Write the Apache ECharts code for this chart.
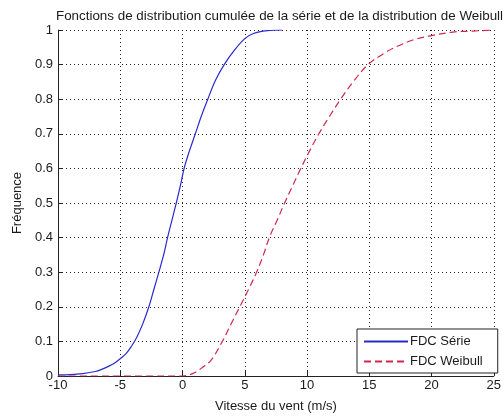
<!DOCTYPE html>
<html>
<head>
<meta charset="utf-8">
<script src="https://cdn.jsdelivr.net/npm/echarts@6/dist/echarts.min.js"></script>
<style>
  html, body { margin: 0; padding: 0; background: #fff; }
  #chart { width: 504px; height: 418px; }
</style>
</head>
<body>
<div id="chart"></div>
<script>
// Empirical CDF of the wind speed series
const serieX = [-10, -9, -8, -7, -6.5, -6, -5.5, -5, -4.5, -4.1, -3.7, -3.2, -2.7, -2.3, -1.9, -1.5, -1.2, -0.85, -0.5, -0.17, 0.13, 0.55, 1.03, 1.5, 2.03, 2.65, 3.35, 4.2, 5.0, 5.7, 6.8, 8.0];
const serieY = [0.003, 0.004, 0.007, 0.013, 0.019, 0.027, 0.036, 0.05, 0.066, 0.086, 0.11, 0.15, 0.20, 0.25, 0.30, 0.352, 0.40, 0.45, 0.50, 0.55, 0.60, 0.65, 0.70, 0.75, 0.80, 0.855, 0.90, 0.943, 0.975, 0.99, 0.998, 1.0];

// Fitted Weibull CDF
const weibullX = [-10, 0, 0.5, 1.0, 1.5, 2.3, 3.2, 3.9, 4.6, 5.3, 5.95, 6.5, 6.97, 7.6, 8.2, 8.85, 9.5, 10.2, 10.95, 11.8, 12.7, 13.7, 14.9, 16.3, 17.2, 18.5, 19.9, 21.7, 23.3, 25];
const weibullY = [0, 0, 0.003, 0.01, 0.022, 0.046, 0.10, 0.15, 0.20, 0.25, 0.30, 0.35, 0.40, 0.45, 0.50, 0.55, 0.60, 0.65, 0.70, 0.75, 0.80, 0.85, 0.90, 0.935, 0.952, 0.971, 0.983, 0.994, 0.997, 1.0];

const titleText = 'Fonctions de distribution cumulée de la série et de la distribution de Weibull';
const xName = 'Vitesse du vent (m/s)';
const yName = 'Fréquence';
const seriesNames = ['FDC Série', 'FDC Weibull'];

const pairs = (xs, ys) => xs.map((x, i) => [x, ys[i]]);

const FONT = 'Liberation Sans, Arial, sans-serif';
const TXT = '#1a1a1a';

const chart = echarts.init(document.getElementById('chart'), null, { renderer: 'canvas' });

const gridLine = { show: true, lineStyle: { color: '#222', width: 1, type: [1, 3] } };

chart.setOption({
  animation: false,
  backgroundColor: '#fff',
  title: {
    text: titleText,
    left: 274.5,
    top: 5,
    textAlign: 'center',
    textStyle: { fontFamily: FONT, fontSize: 13.4, fontWeight: 'normal', color: TXT }
  },
  grid: { left: 58, right: 4, top: 30, bottom: 39 },
  legend: {
    orient: 'vertical',
    left: 357,
    top: 329,
    padding: [6, 15, 5, 6],
    itemWidth: 44,
    itemHeight: 12,
    itemGap: 7,
    backgroundColor: '#fff',
    borderColor: '#222',
    borderWidth: 1,
    borderRadius: 0,
    itemStyle: { opacity: 0 },
    textStyle: { fontFamily: FONT, fontSize: 13, color: TXT, padding: [0, 0, 0, -3] },
    data: seriesNames
  },
  xAxis: {
    type: 'value',
    min: -10,
    max: 25,
    interval: 5,
    name: xName,
    nameLocation: 'middle',
    nameGap: 24,
    nameTextStyle: { fontFamily: FONT, fontSize: 13, color: TXT },
    axisLine: { show: true, onZero: false, lineStyle: { color: '#222', width: 1 } },
    axisTick: { show: true, inside: true, length: 5, lineStyle: { color: '#222' } },
    axisLabel: { fontFamily: FONT, fontSize: 13, color: TXT, margin: 3 },
    splitLine: gridLine
  },
  yAxis: {
    type: 'value',
    min: 0,
    max: 1,
    interval: 0.1,
    name: yName,
    nameLocation: 'middle',
    nameGap: 33,
    nameTextStyle: { fontFamily: FONT, fontSize: 13, color: TXT },
    axisLine: { show: true, onZero: false, lineStyle: { color: '#222', width: 1 } },
    axisTick: { show: true, inside: true, length: 5, lineStyle: { color: '#222' } },
    axisLabel: {
      fontFamily: FONT, fontSize: 13, color: TXT, margin: 5,
      formatter: v => String(Math.round(v * 10) / 10)
    },
    splitLine: gridLine
  },
  series: [
    {
      name: seriesNames[0],
      type: 'line',
      data: pairs(serieX, serieY),
      showSymbol: false,
      symbol: 'none',
      smooth: 0.35,
      lineStyle: { color: '#2a2acc', width: 1.2 },
      itemStyle: { color: '#2a2acc' }
    },
    {
      name: seriesNames[1],
      type: 'line',
      data: pairs(weibullX, weibullY),
      showSymbol: false,
      symbol: 'none',
      smooth: 0.35,
      lineStyle: { color: '#d02848', width: 1.2, type: [7, 4] },
      itemStyle: { color: '#d02848' }
    }
  ]
});
</script>
</body>
</html>
